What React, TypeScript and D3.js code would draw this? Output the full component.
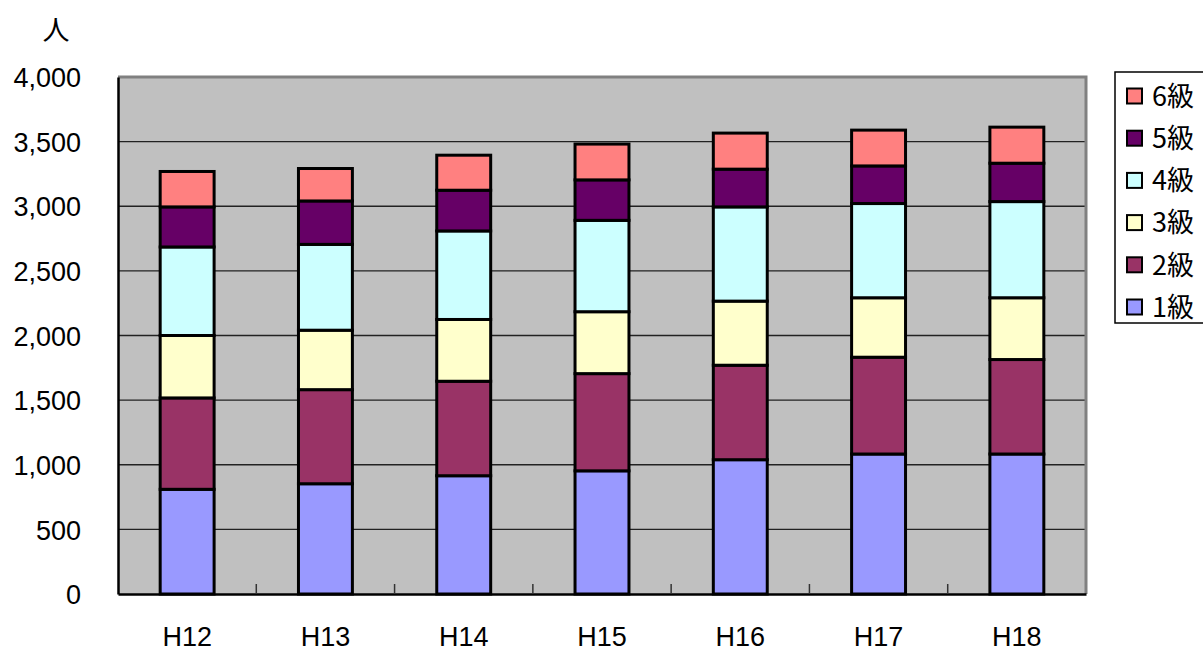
import { useEffect, useRef } from "react";
import { select, scaleLinear, scaleBand, axisLeft, axisBottom, stack, format } from "d3";

const years = ["H12", "H13", "H14", "H15", "H16", "H17", "H18"];
const grades = ["1級", "2級", "3級", "4級", "5級", "6級"];
const grade1 = [810, 853, 915, 953, 1039, 1083, 1083];
const grade2 = [707, 728, 731, 752, 731, 749, 731];
const grade3 = [483, 460, 478, 479, 496, 460, 478];
const grade4 = [685, 664, 685, 707, 729, 729, 744];
const grade5 = [310, 336, 315, 313, 292, 291, 297];
const grade6 = [274, 251, 271, 277, 279, 277, 279];
const colors = ["#9999ff", "#993366", "#ffffcc", "#ccffff", "#660066", "#ff8080"];
const yTicks = [0, 500, 1000, 1500, 2000, 2500, 3000, 3500, 4000];

const W = 1203;
const H = 657;
const margin = { top: 77, right: 117, bottom: 63, left: 118 };

const App = () => {
  const svgRef = useRef(null);

  useEffect(() => {
    const svg = select(svgRef.current);
    svg.selectAll("*").remove();
    const font = "'Liberation Sans', Arial, sans-serif";

    const rows = years.map((y, i) => ({
      year: y,
      "1級": grade1[i],
      "2級": grade2[i],
      "3級": grade3[i],
      "4級": grade4[i],
      "5級": grade5[i],
      "6級": grade6[i],
    }));
    const series = stack().keys(grades)(rows);

    const xScale = scaleBand()
      .domain(years)
      .range([margin.left, W - margin.right])
      .paddingInner(0.61)
      .paddingOuter(0.305);

    const yScale = scaleLinear().domain([0, 4000]).range([H - margin.bottom, margin.top]);

    // plot background
    svg
      .append("rect")
      .attr("x", margin.left)
      .attr("y", margin.top)
      .attr("width", W - margin.left - margin.right)
      .attr("height", H - margin.top - margin.bottom)
      .attr("fill", "#c0c0c0");

    // gridlines
    svg
      .append("g")
      .selectAll("line")
      .data(yTicks.filter((d) => d > 0 && d < 4000))
      .enter()
      .append("line")
      .attr("x1", margin.left)
      .attr("x2", W - margin.right)
      .attr("y1", (d) => yScale(d))
      .attr("y2", (d) => yScale(d))
      .attr("stroke", "#222")
      .attr("stroke-width", 1.3);

    // frame top/right
    svg
      .append("path")
      .attr("d", `M${margin.left},${margin.top}H${W - margin.right}V${H - margin.bottom}`)
      .attr("fill", "none")
      .attr("stroke", "#808080")
      .attr("stroke-width", 3);

    // stacked bars
    svg
      .append("g")
      .selectAll("g")
      .data(series)
      .enter()
      .append("g")
      .attr("fill", (d, i) => colors[i])
      .selectAll("rect")
      .data((d) => d)
      .enter()
      .append("rect")
      .attr("x", (d) => xScale(d.data.year))
      .attr("y", (d) => yScale(d[1]))
      .attr("width", xScale.bandwidth())
      .attr("height", (d) => yScale(d[0]) - yScale(d[1]))
      .attr("stroke", "#000")
      .attr("stroke-width", 3);

    // y axis
    const yAxis = axisLeft(yScale)
      .tickValues(yTicks)
      .tickSize(0)
      .tickPadding(37)
      .tickFormat(format(","));
    const gy = svg.append("g").attr("transform", `translate(${margin.left},0)`).call(yAxis);
    gy.select(".domain").attr("stroke", "#000").attr("stroke-width", 2.5);
    gy.selectAll("text")
      .attr("font-family", font)
      .attr("font-size", 27)
      .attr("fill", "#000")
      .attr("dy", "0.36em");

    // x axis with inside ticks between categories
    const xAxis = axisBottom(xScale).tickSize(0).tickPadding(33);
    const gx = svg.append("g").attr("transform", `translate(0,${H - margin.bottom})`).call(xAxis);
    gx.select(".domain").attr("stroke", "#000").attr("stroke-width", 2.5);
    gx.selectAll("text")
      .attr("font-family", font)
      .attr("font-size", 27)
      .attr("fill", "#000");

    const step = xScale.step();
    svg
      .append("g")
      .selectAll("line")
      .data(years.slice(1))
      .enter()
      .append("line")
      .attr("x1", (d) => xScale(d) - (step - xScale.bandwidth()) / 2)
      .attr("x2", (d) => xScale(d) - (step - xScale.bandwidth()) / 2)
      .attr("y1", H - margin.bottom)
      .attr("y2", H - margin.bottom - 10)
      .attr("stroke", "#333")
      .attr("stroke-width", 1.5);

    // unit label
    svg
      .append("text")
      .attr("x", 56)
      .attr("y", 40)
      .attr("text-anchor", "middle")
      .attr("font-family", "'Noto Sans CJK JP', sans-serif")
      .attr("font-size", 27)
      .text("人");

    // legend
    const legend = svg.append("g");
    legend
      .append("rect")
      .attr("x", 1115)
      .attr("y", 72)
      .attr("width", 100)
      .attr("height", 251)
      .attr("fill", "#fff")
      .attr("stroke", "#000")
      .attr("stroke-width", 1.5);

    const items = grades.map((g, i) => ({ g, c: colors[i] })).reverse();
    const li = legend
      .selectAll("g.item")
      .data(items)
      .enter()
      .append("g")
      .attr("class", "item")
      .attr("transform", (d, i) => `translate(0,${96 + i * 42.2})`);
    li.append("rect")
      .attr("x", 1127)
      .attr("y", -7.5)
      .attr("width", 15)
      .attr("height", 15)
      .attr("fill", (d) => d.c)
      .attr("stroke", "#000")
      .attr("stroke-width", 2);
    li.append("text")
      .attr("x", 1152)
      .attr("y", 0)
      .attr("dy", "0.36em")
      .attr("font-family", "'Noto Sans CJK JP', sans-serif")
      .attr("font-size", 27)
      .text((d) => d.g);
  }, []);

  return (
    <svg
      ref={svgRef}
      width={W}
      height={H}
      style={{ position: "absolute", left: 0, top: 0, background: "#fff" }}
    ></svg>
  );
};

export default App;
